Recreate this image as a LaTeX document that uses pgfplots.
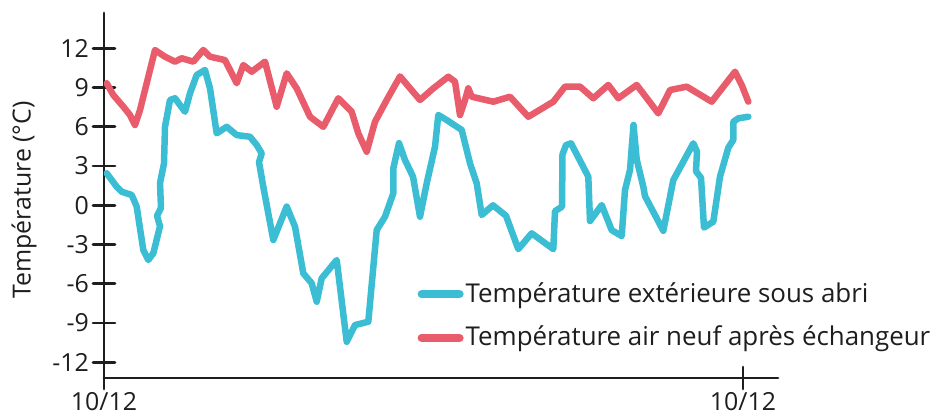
\documentclass[border=0pt]{standalone}
\usepackage{fontspec}
\setmainfont{Open Sans}
\usepackage{pgfplots}
\pgfplotsset{compat=1.18}
\definecolor{cyanl}{RGB}{59,189,212}
\definecolor{redl}{RGB}{232,92,108}
\definecolor{axisc}{RGB}{30,30,30}
\begin{document}
\fontsize{26}{30}\selectfont
\begin{tikzpicture}
\path[use as bounding box] (-104bp,-41bp) rectangle (837bp,378bp);
\begin{axis}[
  scale only axis, width=674bp, height=365bp,
  at={(0,0)}, anchor=south west,
  xmin=0, xmax=674, ymin=-13.2, ymax=14.7,
  axis x line=bottom, axis y line=left,
  axis line style={-, line width=2.8bp, axisc},
  xtick={0,639}, xticklabels={10/12,10/12},
  ytick={-12,-9,-6,-3,0,3,6,9,12},
  yticklabels={-12,-9,-6,-3,0,3,6,9,12},
  tick style={line width=2.8bp, axisc},
  tick align=center, major tick length=22bp,
  every tick label/.append style={font=\fontsize{25}{30}\selectfont, text=axisc},
  yticklabel style={anchor=east, inner sep=0pt, xshift=-4bp},
  xticklabel style={anchor=center, inner sep=0pt, yshift=-13bp},
  every axis y label/.style={at={(axis description cs:0,0.488)}, xshift=-80bp, anchor=center, rotate=90, font=\fontsize{25}{30}\selectfont, text=axisc},
  ylabel={Température (°C)},
  legend style={draw=none, fill=none, at={(axis description cs:0.465,0.268)}, anchor=north west,
    font=\fontsize{26}{30}\selectfont, text=axisc, row sep=16bp, inner sep=0pt,
    legend cell align=left},
  legend image code/.code={\draw[#1, line width=8bp, line cap=round] (0bp,0bp) -- (38bp,0bp);},
  line join=round, line cap=round,
]
\addplot[cyanl, line width=6.5bp, no markers] coordinates {
(2.7,2.45)(12.7,1.42)(17.7,1.04)(27.7,0.79)(32.7,-0.1)(39.3,-3.42)(44.3,-4.18)(49.3,-3.67)
(56,-1.6)(53,-0.8)(57,-0.2)(56,1.7)(60,3.2)(61,6.0)(66,8.05)(71,8.18)(81,7.15)(86,8.56)
(92.7,9.96)(101,10.34)(106,8.94)(112.7,5.5)(122.7,6.0)(132.7,5.37)(146,5.24)(152.7,4.61)
(157.7,3.97)(155,3.3)(159.3,1.42)(169.3,-2.65)(182.7,-0.1)(191,-1.63)(199.3,-5.2)(207.7,-5.96)
(212.7,-7.37)(217.7,-5.58)(232.7,-4.18)(242.7,-10.43)(251,-9.15)(264.3,-8.9)(272.7,-1.89)
(281,-0.87)(289.3,0.92)(289.3,2.83)(295,4.75)(301,3.46)(309,2.19)(316,-0.87)(322.7,1.68)
(331,4.48)(334.3,6.9)(342.7,6.52)(357.7,5.76)(366,3.21)(372.7,1.68)(377.7,-0.74)(389,0.0)
(402,-0.8)(414.3,-3.35)(427.7,-2.14)(449.3,-3.35)(451,-0.45)(458,-0.1)(458.5,3.9)(462,4.6)
(467,4.74)(484.3,2.19)(486,-1.2)(497.7,0.02)(507.7,-1.9)(517.7,-2.35)(521,1.17)(526,2.7)
(529.5,6.14)(532.7,3.5)(539.3,1.42)(541,0.7)(559.3,-1.95)(569.3,1.93)(589.3,4.74)(593,4.1)
(592,2.6)(597,2.1)(600,-1.7)(609.3,-1.25)(616,2.19)(624.3,4.4)(629.3,5.0)(629.3,6.39)
(634.3,6.65)(644.3,6.77)
};
\addlegendentry{Température extérieure sous abri}
\addplot[redl, line width=6.5bp, no markers] coordinates {
(2.7,9.33)(9.3,8.43)(19.3,7.54)(26,6.9)(31,6.14)(36,7.28)(42.7,9.33)(51,11.87)(61,11.36)
(71,10.98)(77.7,11.24)(89.3,10.98)(99.3,11.87)(106,11.36)(121,11.1)(132.7,9.33)(139.3,10.72)
(147.7,10.21)(161,10.98)(172.7,7.54)(182.7,10.09)(192.7,8.94)(206,6.77)(219.3,6.0)(234.3,8.18)
(247.7,7.15)(254.3,5.5)(262.7,4.1)(271,6.39)(282.7,8.05)(296,9.85)(316,8.05)(329.3,8.94)
(344.3,9.83)(351,9.45)(356,6.9)(361,8.05)(364.3,8.94)(367.7,8.3)(389.3,7.92)(406,8.3)
(424.3,6.77)(449.3,7.92)(461,9.07)(476,9.07)(489.3,8.18)(504.3,9.2)(514.3,8.18)(532.7,9.2)
(554.3,7.03)(566,8.81)(582.7,9.07)(607.7,7.92)(631,10.21)(637.7,9.2)(644.3,7.92)
};
\addlegendentry{Température air neuf après échangeur}
\end{axis}
\end{tikzpicture}
\end{document}
